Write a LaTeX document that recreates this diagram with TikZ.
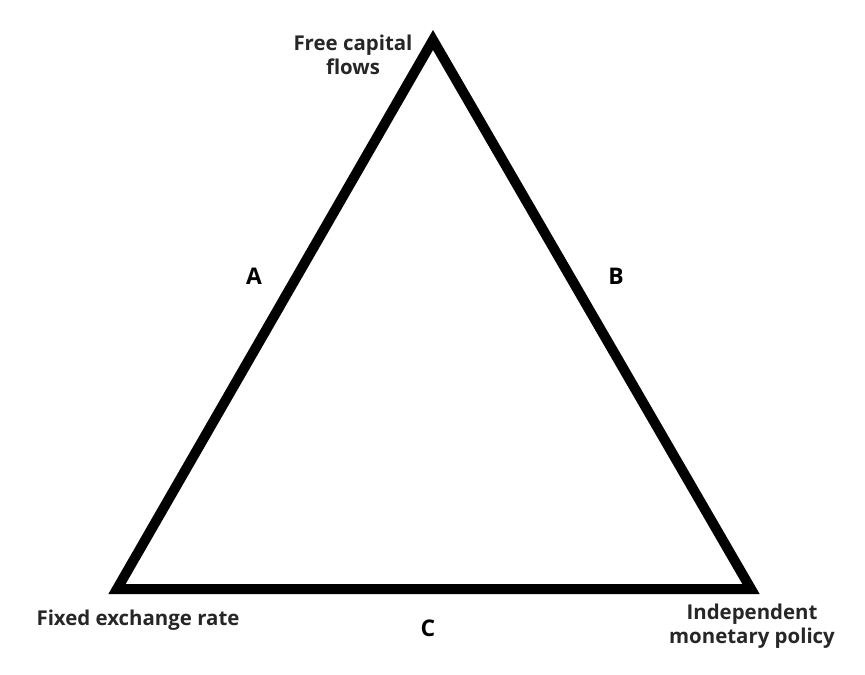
\documentclass[tikz,border=0pt]{standalone}
\usepackage{fontspec}
\setmainfont{Open Sans}
\begin{document}
\begin{tikzpicture}[x=1bp,y=-1bp,
  lbl/.style={font=\fontsize{20.5}{24}\selectfont\bfseries, text=black!85, align=center, inner sep=0pt},
  side/.style={font=\fontsize{23}{26}\selectfont\bfseries, inner sep=0pt},
  tri/.style={line width=10bp, line join=miter}]
\useasboundingbox (0,0) rectangle (865,675);
\coordinate (top) at (433,40);
\coordinate (bl) at (117,589);
\coordinate (br) at (751,589);
\draw[tri] (top) -- (br) -- (bl) -- cycle;
\node[lbl] (fcf) at (353,55) {Free capital\\flows};
\node[lbl] (fer) at (138,620) {Fixed exchange rate};
\node[lbl] (imp) at (752,626) {Independent\\monetary policy};
\node[side] (a) at (254,276) {A};
\node[side] (b) at (616,276) {B};
\node[side] (c) at (428,628) {C};
\end{tikzpicture}
\end{document}
